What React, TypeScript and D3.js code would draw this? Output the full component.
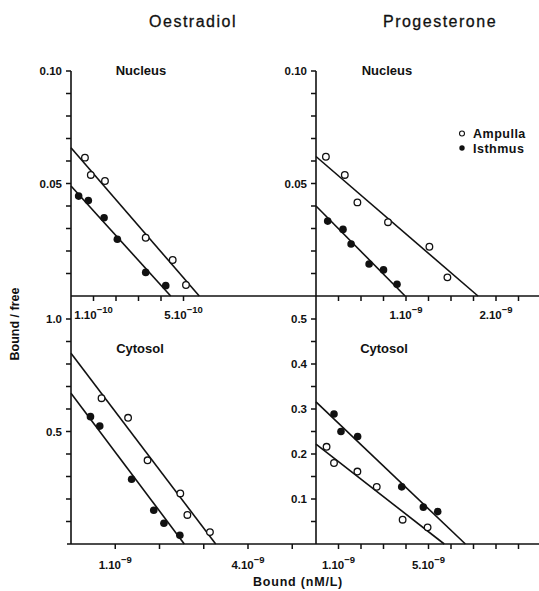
import React, { useEffect, useRef } from 'react';
import * as d3 from 'd3';

// Scatchard data. Bound: oestradiol nucleus in 1e-10 mol/l, all others in 1e-9 mol/l
const oeNucAmpullaX = [0.62, 0.88, 1.51, 3.32, 4.52, 5.11];
const oeNucAmpullaY = [0.0615, 0.0538, 0.0511, 0.0259, 0.016, 0.0049];
const oeNucIsthmusX = [0.34, 0.77, 1.47, 2.06, 3.32, 4.21];
const oeNucIsthmusY = [0.0444, 0.0424, 0.0348, 0.0252, 0.0105, 0.0046];

const pgNucAmpullaX = [0.11, 0.32, 0.46, 0.8, 1.26, 1.46];
const pgNucAmpullaY = [0.0619, 0.0538, 0.0416, 0.0328, 0.0219, 0.0083];
const pgNucIsthmusX = [0.13, 0.3, 0.39, 0.59, 0.75, 0.9];
const pgNucIsthmusY = [0.0333, 0.0296, 0.0231, 0.0142, 0.0116, 0.0052];

const oeCytAmpullaX = [0.69, 1.29, 1.73, 2.47, 2.63, 3.14];
const oeCytAmpullaY = [0.648, 0.561, 0.372, 0.225, 0.129, 0.053];
const oeCytIsthmusX = [0.44, 0.65, 1.37, 1.87, 2.1, 2.46];
const oeCytIsthmusY = [0.566, 0.524, 0.288, 0.15, 0.092, 0.039];

const pgCytAmpullaX = [0.47, 0.8, 1.84, 2.7, 3.85, 4.96];
const pgCytAmpullaY = [0.216, 0.18, 0.161, 0.127, 0.054, 0.037];
const pgCytIsthmusX = [0.8, 1.11, 1.85, 3.81, 4.77, 5.41];
const pgCytIsthmusY = [0.289, 0.25, 0.239, 0.127, 0.082, 0.072];

// regression lines: [bound/free intercept, bound intercept]
const oeNucAmpullaFit = [0.0659, 5.7];
const oeNucIsthmusFit = [0.0489, 4.43];
const pgNucAmpullaFit = [0.062, 1.8];
const pgNucIsthmusFit = [0.04, 0.99];
const oeCytAmpullaFit = [0.848, 3.27];
const oeCytIsthmusFit = [0.67, 2.56];
const pgCytAmpullaFit = [0.222, 5.7];
const pgCytIsthmusFit = [0.316, 6.64];

// ticks
const nucYTicks = [0.01, 0.02, 0.03, 0.04, 0.05, 0.06, 0.07, 0.08, 0.09, 0.1];
const nucYLabelAt = [0.1, 0.05];
const nucYLabels = ['0.10', '0.05'];
const oeCytYTicks = [0.1, 0.2, 0.3, 0.4, 0.5, 0.6, 0.7, 0.8, 0.9, 1.0];
const oeCytYLabelAt = [1.0, 0.5];
const oeCytYLabels = ['1.0', '0.5'];
const pgCytYTicks = [0.05, 0.1, 0.15, 0.2, 0.25, 0.3, 0.35, 0.4, 0.45, 0.5];
const pgCytYLabelAt = [0.5, 0.4, 0.3, 0.2, 0.1];
const pgCytYLabels = ['0.5', '0.4', '0.3', '0.2', '0.1'];

const oeNucXTicks = [1, 2, 3, 4, 5];
const oeNucXLabelAt = [1, 5];
const oeNucXLabels = ['1.10', '5.10'];
const pgNucXTicks = [0.25, 0.5, 0.75, 1, 1.25, 1.5, 1.75, 2, 2.25];
const pgNucXLabelAt = [1, 2];
const pgNucXLabels = ['1.10', '2.10'];
const oeCytXTicks = [1, 2, 3, 4, 5];
const oeCytXLabelAt = [1, 4];
const oeCytXLabels = ['1.10', '4.10'];
const pgCytXTicks = [1, 2, 3, 4, 5, 6, 7, 8, 9];
const pgCytXLabelAt = [1, 5];
const pgCytXLabels = ['1.10', '5.10'];

const FONT = 'Liberation Sans, Arial, sans-serif';
const INK = '#111';

export default function App() {
  const svgRef = useRef<SVGSVGElement>(null);

  useEffect(() => {
    const svg = d3.select(svgRef.current);
    svg.selectAll('*').remove();

    const leftX = 71;
    const rightX = 316;
    const nucY = d3.scaleLinear().domain([0, 0.1]).range([296, 71]);
    const oeCytY = d3.scaleLinear().domain([0, 1]).range([544, 319]);
    const pgCytY = d3.scaleLinear().domain([0, 0.5]).range([544, 319]);
    const oeNucX = d3.scaleLinear().domain([0, 5]).range([leftX, 183.5]);
    const pgNucX = d3.scaleLinear().domain([0, 2]).range([rightX, 496]);
    const oeCytX = d3.scaleLinear().domain([0, 4]).range([leftX, 248]);
    const pgCytX = d3.scaleLinear().domain([0, 5]).range([rightX, 428.5]);

    const panels = [
      { x: oeNucX, y: nucY, ax: leftX, xt: oeNucXTicks, xl: oeNucXLabelAt, xs: oeNucXLabels, exp: '\u221210',
        yt: nucYTicks, yl: nucYLabelAt, ys: nucYLabels, label: 'Nucleus', lx: 141, ly: 75,
        amp: [oeNucAmpullaX, oeNucAmpullaY, oeNucAmpullaFit], ist: [oeNucIsthmusX, oeNucIsthmusY, oeNucIsthmusFit], lab: 23 },
      { x: pgNucX, y: nucY, ax: rightX, xt: pgNucXTicks, xl: pgNucXLabelAt, xs: pgNucXLabels, exp: '\u22129',
        yt: nucYTicks, yl: nucYLabelAt, ys: nucYLabels, label: 'Nucleus', lx: 387, ly: 75,
        amp: [pgNucAmpullaX, pgNucAmpullaY, pgNucAmpullaFit], ist: [pgNucIsthmusX, pgNucIsthmusY, pgNucIsthmusFit], lab: 23 },
      { x: oeCytX, y: oeCytY, ax: leftX, xt: oeCytXTicks, xl: oeCytXLabelAt, xs: oeCytXLabels, exp: '\u22129',
        yt: oeCytYTicks, yl: oeCytYLabelAt, ys: oeCytYLabels, label: 'Cytosol', lx: 140, ly: 353,
        amp: [oeCytAmpullaX, oeCytAmpullaY, oeCytAmpullaFit], ist: [oeCytIsthmusX, oeCytIsthmusY, oeCytIsthmusFit], lab: 25 },
      { x: pgCytX, y: pgCytY, ax: rightX, xt: pgCytXTicks, xl: pgCytXLabelAt, xs: pgCytXLabels, exp: '\u22129',
        yt: pgCytYTicks, yl: pgCytYLabelAt, ys: pgCytYLabels, label: 'Cytosol', lx: 384, ly: 353,
        amp: [pgCytAmpullaX, pgCytAmpullaY, pgCytAmpullaFit], ist: [pgCytIsthmusX, pgCytIsthmusY, pgCytIsthmusFit], lab: 25 },
    ];

    // continuous frame lines
    [leftX, rightX].forEach(ax => {
      svg.append('line').attr('x1', ax).attr('x2', ax)
        .attr('y1', nucY(0.1)).attr('y2', oeCytY(0))
        .attr('stroke', INK).attr('stroke-width', 1.6);
    });
    svg.append('line').attr('x1', leftX).attr('x2', 539)
      .attr('y1', nucY(0)).attr('y2', nucY(0)).attr('stroke', INK).attr('stroke-width', 1.6);
    svg.append('line').attr('x1', 67).attr('x2', 539)
      .attr('y1', oeCytY(0)).attr('y2', oeCytY(0)).attr('stroke', INK).attr('stroke-width', 1.6);

    const line = d3.line<number[]>();

    panels.forEach(p => {
      const base = p.y(0);

      // y ticks pointing left, x ticks pointing down; one path per axis
      const yTickPath = p.yt.map(d => `M${p.ax - 5},${p.y(d)}H${p.ax}`).join('');
      svg.append('path').attr('d', yTickPath)
        .attr('fill', 'none').attr('stroke', INK).attr('stroke-width', 1.5);
      const xTickPath = p.xt.map(d => `M${p.x(d)},${base}V${base + 5}`).join('');
      svg.append('path').attr('d', xTickPath)
        .attr('fill', 'none').attr('stroke', INK).attr('stroke-width', 1.5);

      svg.append('g').selectAll('text')
        .data(p.yl)
        .enter().append('text')
        .attr('x', p.ax - 9).attr('y', d => p.y(d))
        .attr('dy', '0.36em').attr('text-anchor', 'end').attr('fill', INK)
        .style('font-family', FONT).style('font-size', '11.5px').style('font-weight', 'bold')
        .text((d, i) => p.ys[i]);

      p.xl.forEach((v, i) => {
        const t = svg.append('text')
          .attr('x', p.x(v)).attr('y', base + p.lab)
          .attr('text-anchor', 'middle').attr('fill', INK)
          .style('font-family', FONT).style('font-size', '11.5px').style('font-weight', 'bold');
        t.append('tspan').text(p.xs[i]);
        t.append('tspan').attr('dy', -6).style('font-size', '9.5px').text(p.exp);
      });

      svg.append('text')
        .attr('x', p.lx).attr('y', p.ly)
        .attr('text-anchor', 'middle').attr('fill', INK)
        .style('font-family', FONT).style('font-size', '13px').style('font-weight', 'bold')
        .text(p.label);

      const fits = [p.amp[2], p.ist[2]];
      fits.forEach(f => {
        svg.append('path')
          .attr('d', line([[p.x(0), p.y(f[0])], [p.x(f[1]), p.y(0)]]))
          .attr('stroke', INK).attr('stroke-width', 1.6).attr('fill', 'none');
      });

      svg.append('g').selectAll('circle')
        .data(d3.zip(p.amp[0], p.amp[1]))
        .enter().append('circle')
        .attr('cx', d => p.x(d[0])).attr('cy', d => p.y(d[1])).attr('r', 3.3)
        .attr('fill', '#fff').attr('stroke', INK).attr('stroke-width', 1.3);

      svg.append('g').selectAll('circle')
        .data(d3.zip(p.ist[0], p.ist[1]))
        .enter().append('circle')
        .attr('cx', d => p.x(d[0])).attr('cy', d => p.y(d[1])).attr('r', 3.8)
        .attr('fill', INK);
    });

    // titles
    [['Oestradiol', 193], ['Progesterone', 440]].forEach(([s, x]) => {
      svg.append('text').attr('x', x as number).attr('y', 27).attr('text-anchor', 'middle')
        .style('font-family', FONT).style('font-size', '16px').style('letter-spacing', '1.5px')
        .attr('fill', INK).attr('stroke', INK).attr('stroke-width', 0.3)
        .text(s as string);
    });

    // legend
    svg.append('circle').attr('cx', 462).attr('cy', 133.5).attr('r', 2.5)
      .attr('fill', '#fff').attr('stroke', INK).attr('stroke-width', 1.1);
    svg.append('circle').attr('cx', 462).attr('cy', 148).attr('r', 2.7).attr('fill', INK);
    [['Ampulla', 138], ['Isthmus', 152.5]].forEach(([s, y]) => {
      svg.append('text').attr('x', 473).attr('y', y as number)
        .style('font-family', FONT).style('font-size', '12.5px').style('font-weight', 'bold')
        .style('letter-spacing', '0.5px').attr('fill', INK).text(s as string);
    });

    // axis titles
    svg.append('text')
      .attr('transform', 'translate(19,324) rotate(-90)')
      .attr('text-anchor', 'middle').attr('fill', INK)
      .style('font-family', FONT).style('font-size', '12.5px').style('font-weight', 'bold')
      .text('Bound / free');
    svg.append('text')
      .attr('x', 298).attr('y', 586).attr('text-anchor', 'middle').attr('fill', INK)
      .style('font-family', FONT).style('font-size', '12.5px').style('font-weight', 'bold')
      .style('letter-spacing', '0.8px')
      .text('Bound  (nM/L)');
  }, []);

  return (
    <div style={{ position: 'absolute', left: 0, top: 0 }}>
      <svg ref={svgRef} width={539} height={591} style={{ display: 'block', background: '#fff' }} />
    </div>
  );
}
